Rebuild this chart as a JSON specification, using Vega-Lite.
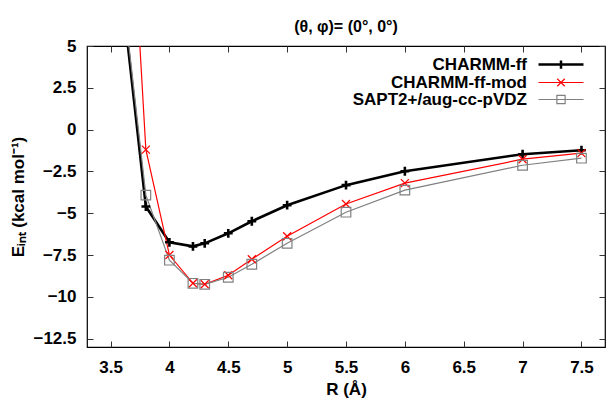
{
  "$schema": "https://vega.github.io/schema/vega-lite/v6.json",
  "width": 518,
  "height": 301,
  "autosize": {"type": "none"},
  "padding": {"left": 87, "top": 46, "right": 1, "bottom": 53},
  "background": "white",
  "config": {
    "font": "Liberation Sans",
    "view": {"stroke": "#000000", "strokeWidth": 1.2},
    "axis": {"grid": false, "domain": false, "tickColor": "#333333", "tickWidth": 1, "labelColor": "#000000", "titleColor": "#000000"}
  },
  "title": {"text": "(θ, φ)= (0°, 0°)", "fontSize": 16, "fontWeight": "bold", "anchor": "middle", "offset": 2, "color": "#000000"},
  "data": {
    "values": [
      {"series": "CHARMM-ff", "R": 3.6, "E": 8.0},
      {"series": "CHARMM-ff", "R": 3.8, "E": -4.6},
      {"series": "CHARMM-ff", "R": 4.0, "E": -6.74},
      {"series": "CHARMM-ff", "R": 4.2, "E": -6.98},
      {"series": "CHARMM-ff", "R": 4.3, "E": -6.8},
      {"series": "CHARMM-ff", "R": 4.5, "E": -6.2},
      {"series": "CHARMM-ff", "R": 4.7, "E": -5.48},
      {"series": "CHARMM-ff", "R": 5.0, "E": -4.52},
      {"series": "CHARMM-ff", "R": 5.5, "E": -3.32},
      {"series": "CHARMM-ff", "R": 6.0, "E": -2.49},
      {"series": "CHARMM-ff", "R": 7.0, "E": -1.47},
      {"series": "CHARMM-ff", "R": 7.5, "E": -1.23},
      {"series": "CHARMM-ff-mod", "R": 3.7, "E": 11.0},
      {"series": "CHARMM-ff-mod", "R": 3.8, "E": -1.2},
      {"series": "CHARMM-ff-mod", "R": 4.0, "E": -7.5},
      {"series": "CHARMM-ff-mod", "R": 4.2, "E": -9.19},
      {"series": "CHARMM-ff-mod", "R": 4.3, "E": -9.25},
      {"series": "CHARMM-ff-mod", "R": 4.5, "E": -8.71},
      {"series": "CHARMM-ff-mod", "R": 4.7, "E": -7.75},
      {"series": "CHARMM-ff-mod", "R": 5.0, "E": -6.38},
      {"series": "CHARMM-ff-mod", "R": 5.5, "E": -4.45},
      {"series": "CHARMM-ff-mod", "R": 6.0, "E": -3.2},
      {"series": "CHARMM-ff-mod", "R": 7.0, "E": -1.77},
      {"series": "CHARMM-ff-mod", "R": 7.5, "E": -1.41},
      {"series": "SAPT2+/aug-cc-pVDZ", "R": 3.6, "E": 8.5},
      {"series": "SAPT2+/aug-cc-pVDZ", "R": 3.8, "E": -3.92},
      {"series": "SAPT2+/aug-cc-pVDZ", "R": 4.0, "E": -7.81},
      {"series": "SAPT2+/aug-cc-pVDZ", "R": 4.2, "E": -9.19},
      {"series": "SAPT2+/aug-cc-pVDZ", "R": 4.3, "E": -9.25},
      {"series": "SAPT2+/aug-cc-pVDZ", "R": 4.5, "E": -8.83},
      {"series": "SAPT2+/aug-cc-pVDZ", "R": 4.7, "E": -8.05},
      {"series": "SAPT2+/aug-cc-pVDZ", "R": 5.0, "E": -6.8},
      {"series": "SAPT2+/aug-cc-pVDZ", "R": 5.5, "E": -4.94},
      {"series": "SAPT2+/aug-cc-pVDZ", "R": 6.0, "E": -3.62},
      {"series": "SAPT2+/aug-cc-pVDZ", "R": 7.0, "E": -2.13},
      {"series": "SAPT2+/aug-cc-pVDZ", "R": 7.5, "E": -1.71}
    ]
  },
  "encoding": {
    "color": {
      "field": "series",
      "type": "nominal",
      "scale": {"domain": ["CHARMM-ff", "CHARMM-ff-mod", "SAPT2+/aug-cc-pVDZ"], "range": ["#000000", "#ff0000", "#808080"]},
      "legend": {
        "title": null,
        "orient": "none",
        "legendX": 233,
        "legendY": 10,
        "padding": 0,
        "labelFontSize": 17,
        "labelFontWeight": "bold",
        "labelColor": "#000000",
        "labelAlign": "right",
        "labelOffset": 190,
        "labelLimit": 400,
        "symbolSize": 225,
        "rowPadding": -4.5,
        "encode": {
          "symbols": {
            "update": {
              "x": {"value": 241},
              "shape": {"signal": "datum.value === 'CHARMM-ff' ? 'M-3,0H3M0,-0.55V0.55' : datum.value === 'CHARMM-ff-mod' ? 'M-3,0H3M-0.5,-0.5L0.5,0.5M-0.5,0.5L0.5,-0.5' : 'M-3,0H3M-0.55,-0.55H0.55V0.55H-0.55Z'"},
              "strokeWidth": {"signal": "datum.value === 'CHARMM-ff' ? 2.5 : 1.2"},
              "fill": {"value": "transparent"},
              "stroke": {"signal": "datum.value === 'CHARMM-ff' ? '#000000' : datum.value === 'CHARMM-ff-mod' ? '#ff0000' : '#808080'"}
            }
          }
        }
      }
    }
  },
  "layer": [
    {
      "mark": {"type": "line", "clip": true},
      "encoding": {
        "x": {
          "field": "R", "type": "quantitative",
          "scale": {"domain": [3.3, 7.7], "nice": false, "zero": false},
          "axis": {"orient": "bottom", "values": [3.5, 4, 4.5, 5, 5.5, 6, 6.5, 7, 7.5], "format": ".1~f", "tickSize": -6, "labelPadding": 18, "labelFontSize": 17, "labelFontWeight": "bold", "title": "R (Å)", "titleFontSize": 17, "titleFontWeight": "bold", "titlePadding": 6}
        },
        "y": {
          "field": "E", "type": "quantitative",
          "scale": {"domain": [-13, 5], "nice": false, "zero": false},
          "axis": {"orient": "left", "values": [-12.5, -10, -7.5, -5, -2.5, 0, 2.5, 5], "format": ".1~f", "tickSize": -6, "labelPadding": 17, "labelFontSize": 17, "labelFontWeight": "bold", "title": "Eᵢₙₜ (kcal mol⁻¹)", "titleFontSize": 17, "titleFontWeight": "bold", "titlePadding": 5}
        },
        "strokeWidth": {"condition": {"test": "datum.series === 'CHARMM-ff'", "value": 2.6}, "value": 1.2}
      }
    },
    {
      "transform": [{"filter": "datum.series === 'CHARMM-ff'"}],
      "mark": {"type": "point", "clip": true, "filled": false, "size": 64, "opacity": 1, "strokeWidth": 2.6, "shape": "M-1.1,0H1.1M0,-1.1V1.1"},
      "encoding": {
        "x": {
          "field": "R", "type": "quantitative",
          "axis": {"orient": "top", "values": [3.5, 4, 4.5, 5, 5.5, 6, 6.5, 7, 7.5], "tickSize": -6, "labels": false, "title": null}
        },
        "y": {
          "field": "E", "type": "quantitative",
          "axis": {"orient": "right", "values": [-12.5, -10, -7.5, -5, -2.5, 0, 2.5, 5], "tickSize": -6, "labels": false, "title": null}
        }
      }
    },
    {
      "transform": [{"filter": "datum.series === 'CHARMM-ff-mod'"}],
      "mark": {"type": "point", "clip": true, "filled": false, "size": 64, "opacity": 1, "strokeWidth": 1.2, "shape": "M-1,-1L1,1M-1,1L1,-1"},
      "encoding": {
        "x": {"field": "R", "type": "quantitative", "axis": null},
        "y": {"field": "E", "type": "quantitative", "axis": null}
      }
    },
    {
      "transform": [{"filter": "datum.series === 'SAPT2+/aug-cc-pVDZ'"}],
      "mark": {"type": "point", "clip": true, "filled": false, "size": 64, "opacity": 1, "strokeWidth": 1.2, "shape": "M-1.2,-1.2H1.2V1.2H-1.2Z"},
      "encoding": {
        "x": {"field": "R", "type": "quantitative", "axis": null},
        "y": {"field": "E", "type": "quantitative", "axis": null}
      }
    }
  ],
  "resolve": {"axis": {"x": "independent", "y": "independent"}}
}
